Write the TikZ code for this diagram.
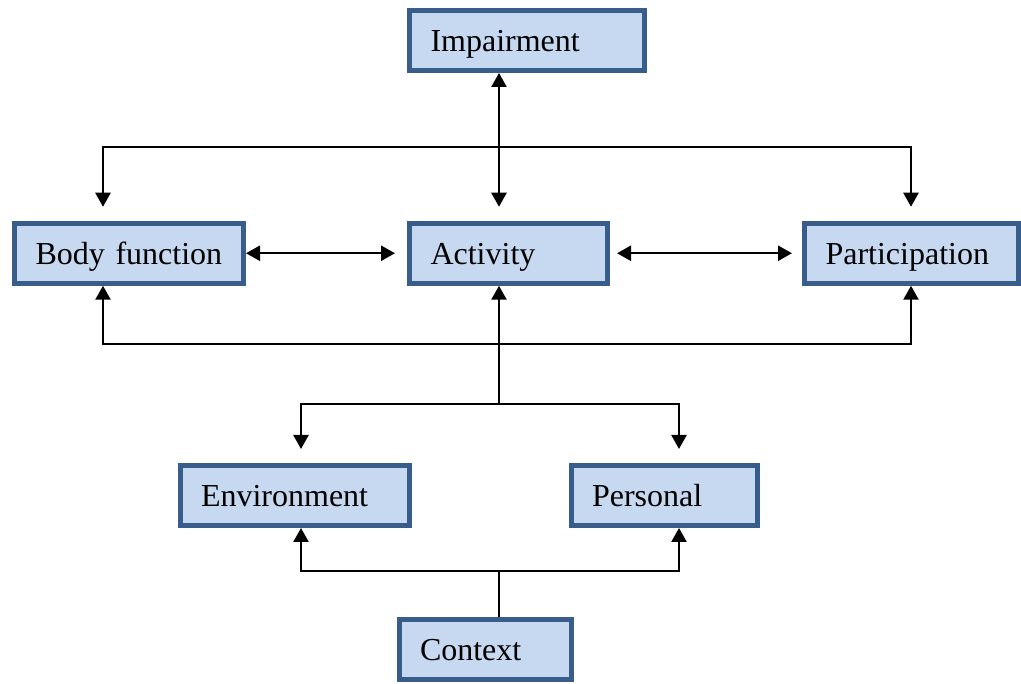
\documentclass[tikz,border=0pt]{standalone}
\usepackage{fontspec}
\setmainfont{Liberation Serif}
\usetikzlibrary{arrows.meta}
\definecolor{boxfill}{RGB}{198,217,240}
\definecolor{boxline}{RGB}{56,93,138}

\begin{document}
\begin{tikzpicture}[x=1pt,y=-1pt,
  box/.style={draw=boxline, fill=boxfill, line width=5pt, rectangle,
    minimum height=60pt, inner xsep=21pt, inner ysep=0pt, align=left,
    text height=22pt, text depth=0pt, font=\fontsize{32}{38}\selectfont},
  link/.style={line width=2.5pt, -{Triangle[length=14pt,width=15pt]}},
  both/.style={line width=2.5pt, {Triangle[length=14pt,width=15pt]}-{Triangle[length=14pt,width=15pt]}},
  stem/.style={line width=1.5pt}]
  \useasboundingbox (0,0) rectangle (1021,684);

  % boxes
  \node[box, text width=193pt] (imp)  at (527,40.5)    {Impairment};
  \node[box, text width=187pt] (bf)   at (129,253.25)  {Body function};
  \node[box, text width=156pt] (act)  at (508.5,253.25){Activity};
  \node[box, text width=172pt] (part) at (911.5,253.25){Participation};
  \node[box, text width=187pt] (env)  at (294.5,495.5) {Environment};
  \node[box, text width=144pt] (pers) at (664,495.5)   {Personal};
  \node[box, text width=130pt] (ctx)  at (485,649.5)   {Context};

  % columns of the vertical connectors
  \coordinate (xA)  at (499,0);
  \coordinate (xBF) at (103,0);
  \coordinate (xP)  at (911,0);
  \coordinate (xE)  at (301,0);
  \coordinate (xPe) at (679,0);

  % junctions on the central spine
  \coordinate (top)  at (499,147);
  \coordinate (mid)  at (499,344);
  \coordinate (low)  at (499,404);
  \coordinate (base) at (499,571);

  % upper part
  \draw[both, shorten >=14pt] (imp.south -| xA) -- (act.north -| xA);
  \draw[link, shorten >=14pt] (top) -| (bf.north -| xBF);
  \draw[link, shorten >=14pt] (top) -| (part.north -| xP);

  % middle row
  \draw[both, shorten >=12pt] (bf.east) -- (act.west);
  \draw[both, shorten <=7pt, shorten >=10pt] (act.east) -- (part.west);

  % lower bus into the middle row
  \draw[link] (low) -- (act.south -| xA);
  \draw[link] (mid) -| (bf.south -| xBF);
  \draw[link] (mid) -| (part.south -| xP);

  % context branch
  \draw[link, shorten >=14pt] (low) -| (env.north -| xE);
  \draw[link, shorten >=14pt] (low) -| (pers.north -| xPe);
  \draw[stem] (ctx.north -| xA) -- (base);
  \draw[link] (base) -| (env.south -| xE);
  \draw[link] (base) -| (pers.south -| xPe);
\end{tikzpicture}
\end{document}
